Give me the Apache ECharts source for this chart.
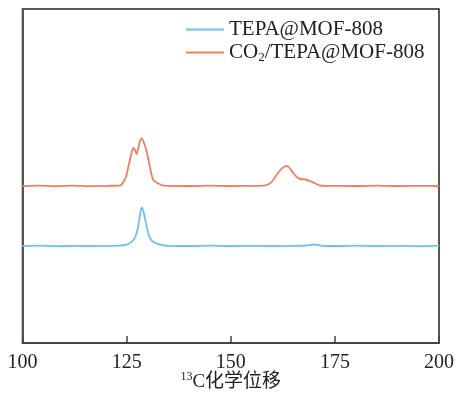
<!DOCTYPE html>
<html>
<head>
<meta charset="utf-8">
<script src="https://cdn.jsdelivr.net/npm/echarts@6/dist/echarts.min.js"></script>
<style>html,body{margin:0;padding:0;background:#fff;}#c{width:456px;height:395px;}</style>
</head>
<body>
<div id="c"></div>
<script>
// 13C chemical shift (ppm)
const shiftBlue = [100,104,108,112,116,120,123,124.5,125.5,126.5,127.2,127.8,128.2,128.6,129,129.4,130,130.6,131.3,132,133,134,136,140,145,150,155,160,165,168,170,171,172,176,180,185,190,195,200];
const intensityBlue = [97,97.3,96.8,97.2,97,97.2,97.3,98,99.3,102.5,107.5,117,128,135.3,132,124.5,113,105,101.3,99.8,98.3,97.5,97.2,97,97.3,97,97.2,97,97.2,97.5,98.5,98,97.2,97,97.3,97,97.2,96.9,97.3];
const shiftOrange = [100,104,108,112,116,120,123,123.6,124.2,124.8,125.4,126,126.6,127,127.4,127.8,128.2,128.6,129,129.5,130,130.5,131,131.4,132,132.6,133.4,134,140,145,150,155,158,159,160,161,162,163,163.4,164,165,166,166.8,168,169,170.2,171.4,173,180,185,190,195,200];
const intensityOrange = [157,157.3,156.8,157.3,156.9,157.2,157.3,158,161,166,176,187,195.3,193,189,195,202,204.7,202,196,188,178,168,163,161,159.5,158,157.3,157,157.3,157,157.2,157.3,158.7,162,168,173.5,176.7,177,175.5,170,165.5,164,163.5,162,159.7,157.5,157.2,157,157.3,157,157.2,157];
const xTicks = [100,125,150,175,200];
const seriesNames = ['TEPA@MOF-808','CO2/TEPA@MOF-808'];

const zip = (a,b) => a.map((v,i)=>[v,b[i]]);
const serif = 'Liberation Serif, Times New Roman, Noto Sans CJK SC, serif';
const chart = echarts.init(document.getElementById('c'), null, {renderer:'canvas'});
chart.setOption({
  animation:false,
  grid:{left:22.5,right:17,top:9,bottom:52,show:true,borderColor:'#222',borderWidth:1.5,
        containLabel:false,outerBoundsMode:'none'},
  legend:{
    orient:'vertical', left:185, top:18, padding:0, itemWidth:38, itemHeight:4, itemGap:0,
    itemStyle:{opacity:0},
    data:seriesNames,
    textStyle:{fontFamily:serif,fontSize:21,color:'#222',lineHeight:23,
      rich:{n:{fontFamily:serif,fontSize:21,color:'#222',lineHeight:23},
            s:{fontFamily:serif,fontSize:13,color:'#222',lineHeight:13,verticalAlign:'bottom'}}},
    formatter:function(name){
      if(name.indexOf('CO2')===0){ return '{n|CO}{s|2}{n|' + name.slice(3) + '}'; }
      return '{n|' + name + '}';
    }
  },
  xAxis:{
    type:'value', min:xTicks[0], max:xTicks[xTicks.length-1], interval:25,
    axisLine:{show:true,lineStyle:{color:'#444',width:2}},
    axisTick:{show:true,inside:true,length:7,lineStyle:{color:'#444',width:1.5}},
    axisLabel:{fontFamily:serif,fontSize:20,color:'#222',margin:10},
    splitLine:{show:false},
    name:'{sup|13}{n|C化学位移}', nameLocation:'middle', nameGap:28, nameMoveOverlap:false,
    nameTextStyle:{rich:{
      sup:{fontFamily:serif,fontSize:12,color:'#222',lineHeight:12,verticalAlign:'top'},
      n:{fontFamily:serif,fontSize:19,color:'#222',lineHeight:22}}}
  },
  yAxis:{
    type:'value', min:0, max:334,
    axisLine:{show:true,lineStyle:{color:'#555',width:2}},
    axisTick:{show:false}, axisLabel:{show:false}, splitLine:{show:false}
  },
  series:[
    {name:seriesNames[0],type:'line',data:zip(shiftBlue,intensityBlue),symbol:'none',smooth:0.3,
     lineStyle:{color:'#6CC4EE',width:1.8},itemStyle:{color:'#6CC4EE'}},
    {name:seriesNames[1],type:'line',data:zip(shiftOrange,intensityOrange),symbol:'none',smooth:0.3,
     lineStyle:{color:'#F47E60',width:1.8},itemStyle:{color:'#F47E60'}}
  ]
});
</script>
</body>
</html>
